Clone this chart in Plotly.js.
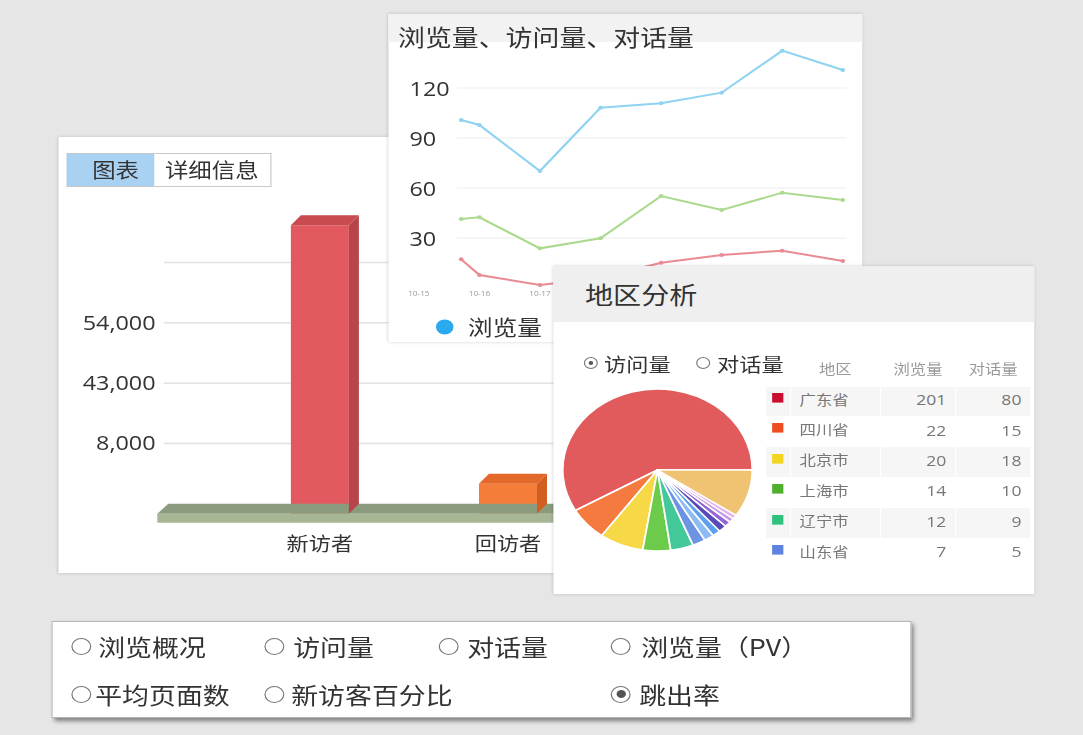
<!DOCTYPE html>
<html><head><meta charset="utf-8">
<script src="https://cdn.plot.ly/plotly-3.0.1.min.js"></script>
<style>
html,body{margin:0;padding:0;}
body{width:1083px;height:735px;background:#e6e6e6;position:relative;overflow:hidden;font-family:"Noto Sans CJK SC","Noto Sans",sans-serif;color:#333;}
#stage{position:absolute;left:0;top:0;width:926px;height:735px;transform:scaleX(1.17);transform-origin:0 0;}
.txt{white-space:nowrap;}
</style>
</head>
<body>
<div id="stage"></div>
<script>
// ---------- DATA ----------
const barCategories = ['新访者', '回访者'];
const barValues = [4.78, 0.5];
const barTickText = ['8,000', '43,000', '54,000', ''];

const lineDates = ['10-15', '10-16', '10-17', '10-18', '10-19', '10-20', '10-21', '10-22'];
const visibleDateCount = 3;   // the other date labels are covered by the 地区分析 card
const lineX = [0.7, 1, 2, 3, 4, 5, 6, 7];
const pvValues = [100.8, 97.8, 70.2, 108.2, 110.8, 117.2, 142.4, 130.8];
const visitValues = [41.4, 42.4, 23.8, 29.8, 55.2, 46.8, 57.2, 52.8];
const chatValues = [17.2, 7.8, 1.8, 6, 15.2, 19.8, 22.4, 16.2];
const lineTicks = [30, 60, 90, 120];
const lineSeriesNames = ['浏览量', '访问量', '对话量'];

const regions = ['广东省', '四川省', '北京市', '上海市', '辽宁市', '山东省'];
const regionPV = [201, 22, 20, 14, 12, 7];
const regionChat = [80, 15, 18, 10, 9, 5];
const pieLabels = ['广东省', '四川省', '北京市', '上海市', '辽宁市', '山东省', '其他1', '其他2', '其他3', '其他4', '其他5', '其他6', '其他7'];
const pieValues = [210, 24, 27, 17, 14, 8, 6, 5, 5, 4, 3, 3, 34];

const panelRadios = ['访问量', '对话量'];
const bottomRow1 = ['浏览概况', '访问量', '对话量', '浏览量（PV）'];
const bottomRow2 = ['平均页面数', '新访客百分比', '跳出率'];
const tabLabels = ['图表', '详细信息'];
const chartTitles = ['浏览量、访问量、对话量', '地区分析'];

// ---------- STYLE ----------
const SX = 1.17;
const FONT = '"Open Sans", "Noto Sans CJK SC", sans-serif';
const CJK = '"Noto Sans CJK SC", "Noto Sans", sans-serif';
const stage = document.getElementById('stage');
const CFG = {staticPlot: true, displayModeBar: false};

function el(parent, gx, gy, gw, gh, css) {
  const d = document.createElement('div');
  d.style.position = 'absolute';
  d.style.left = (gx / SX) + 'px';
  d.style.top = gy + 'px';
  if (gw != null) d.style.width = (gw / SX) + 'px';
  if (gh != null) d.style.height = gh + 'px';
  if (css) d.style.cssText += css;
  parent.appendChild(d);
  return d;
}
function text(parent, gx, cy, str, fs, css) {
  const lh = Math.round(fs * 1.4);
  const d = el(parent, gx, cy - lh / 2, null, null, 'font-size:' + fs + 'px;line-height:' + lh + 'px;' + (css || ''));
  d.className = 'txt';
  d.textContent = str;
  return d;
}
function radio(parent, cx, cy, tx, label, fs, checked, dia, dot) {
  const c = el(parent, cx - dia * SX / 2, cy - dia / 2, dia * SX, dia,
    'box-sizing:border-box;border:1px solid #777;border-radius:50%;background:#fff;');
  if (checked) {
    el(c, (dia - 2 - dot) * SX / 2, (dia - 2 - dot) / 2, dot * SX, dot, 'border-radius:50%;background:#555;');
  }
  text(parent, tx, cy, label, fs, 'color:#333;');
}

// ---------- BAR PANEL ----------
const barPanel = el(stage, 58, 137, 540, 436, 'background:#fff;box-shadow:0 0 3px rgba(0,0,0,0.18);z-index:1;');
const barDiv = el(barPanel, 0, 0, 540, 436);
const tab1 = el(barPanel, 9, 16, 88, 34, 'background:#a9d1f2;box-sizing:border-box;border:1px solid #c8c8c8;');
text(tab1, 24, 16, tabLabels[0], 20, 'color:#333;');
const tab2 = el(barPanel, 97, 16, 117, 34, 'background:#fff;box-sizing:border-box;border:1px solid #c8c8c8;border-left:none;');
text(tab2, 10, 16, tabLabels[1], 20, 'color:#333;');

(function () {
  const pxX = 188, pxY = 60.3;
  const x0g = 319;
  const plotL = 156, plotR = 598;
  const xr = [(plotL - x0g) / pxX, (plotR - x0g) / pxX];
  const yr = [-0.45, 5.2];
  const yBottomG = 503.5 + 0.45 * pxY;
  const mb = (137 + 436) - yBottomG;
  const mt = 436 - mb - (yr[1] - yr[0]) * pxY;
  const dx = 10 / pxX, dy = 10 / pxY, hw = 29 / pxX;
  const floorH = 9 / pxY;
  const xs = barCategories.map((c, i) => i);
  const front = ['#e25a5f', '#f57d3a'];
  const top = ['#c84b4f', '#e3692b'];
  const side = ['#b6464a', '#d25e21'];
  const traces = [];
  const fl = xr[0] + 0.5 / pxX, frR = xr[1] + 1;
  traces.push({x: [fl, frR, frR, fl + 1.1 * dx, fl], y: [-dy, -dy, 0, 0, -dy], mode: 'lines', fill: 'toself',
    fillcolor: '#8b9b7d', line: {width: 0}, hoverinfo: 'skip'});
  traces.push({x: [fl, frR, frR, fl, fl], y: [-dy - floorH, -dy - floorH, -dy, -dy, -dy - floorH], mode: 'lines', fill: 'toself',
    fillcolor: '#a7b795', line: {width: 0}, hoverinfo: 'skip'});
  traces.push({type: 'bar', x: xs, y: barValues, base: -dy, width: 2 * hw,
    marker: {color: front, line: {width: 0}}, hoverinfo: 'skip'});
  xs.forEach((c, i) => {
    const v = barValues[i];
    traces.push({x: [c + hw, c + hw + dx, c + hw + dx, c + hw, c + hw], y: [-dy, 0, v, v - dy, -dy], mode: 'lines',
      fill: 'toself', fillcolor: side[i], line: {width: 0}, hoverinfo: 'skip'});
    traces.push({x: [c - hw, c + hw, c + hw + dx, c - hw + dx, c - hw], y: [v - dy, v - dy, v, v, v - dy], mode: 'lines',
      fill: 'toself', fillcolor: top[i], line: {width: 0}, hoverinfo: 'skip'});
  });
  const gridStart = (163 - x0g) / pxX;
  const shapes = [1, 2, 3, 4].map(g => ({type: 'line', xref: 'x', yref: 'y', x0: gridStart, x1: frR, y0: g, y1: g,
    line: {color: '#e3e3e3', width: 1.5}, layer: 'below'}));
  Plotly.newPlot(barDiv, traces, {
    width: 540 / SX, height: 436,
    margin: {l: (plotL - 58) / SX, r: 0, t: mt, b: mb, autoexpand: false},
    paper_bgcolor: 'rgba(0,0,0,0)', plot_bgcolor: 'rgba(0,0,0,0)',
    showlegend: false, shapes: shapes,
    xaxis: {range: xr, tickvals: xs, ticktext: barCategories, showgrid: false, zeroline: false, showline: false,
      ticks: '', tickfont: {family: CJK, size: 19, color: '#333'}},
    yaxis: {range: yr, tickvals: [1, 2, 3, 4], ticktext: barTickText, showgrid: false, zeroline: false, showline: false,
      ticks: '', tickfont: {family: FONT, size: 20, color: '#333'}}
  }, CFG);
})();

// ---------- LINE PANEL ----------
const linePanel = el(stage, 388, 14, 474, 328, 'background:#fff;box-shadow:0 0 3px rgba(0,0,0,0.18);z-index:2;');
el(linePanel, 0, 0, 474, 28, 'background:#f2f2f2;');
const lineDiv = el(linePanel, 0, 0, 474, 328);
text(linePanel, 10, 22, chartTitles[0], 23, 'color:#333;');

(function () {
  const pxX = 60.6, x0g = 418;
  const plotL = 404, plotR = 850;
  const xr = [(plotL - x0g) / pxX, (plotR - x0g) / pxX];
  const colors = ['#8ed3f0', '#abd98e', '#ea8a92'];
  const series = [pvValues, visitValues, chatValues];
  const traces = [];
  [2, 1, 0].forEach(i => {
    traces.push({x: lineX, y: series[i], mode: 'lines+markers', line: {color: colors[i], width: 2},
      marker: {color: colors[i], size: 4}, showlegend: false, hoverinfo: 'skip'});
  });
  traces.push({x: [null], y: [null], mode: 'markers', name: lineSeriesNames[0], marker: {color: '#2aa9ee', size: 15},
    showlegend: true, hoverinfo: 'skip'});
  const shapes = lineTicks.map(t => ({type: 'line', xref: 'x', yref: 'y', x0: 0.62, x1: 7.06, y0: t, y1: t,
    line: {color: '#eeeeee', width: 1}, layer: 'below'}));
  // y tick labels, left-aligned inside the plot, placed through the y scale
  const yLabels = lineTicks.map(t => ({xref: 'paper', yref: 'y', x: 0, y: t, xanchor: 'left', yanchor: 'middle',
    xshift: 2, text: String(t), showarrow: false, font: {family: FONT, size: 20, color: '#333'}}));
  const tv = lineDates.slice(0, visibleDateCount).map((d, i) => i);
  Plotly.newPlot(lineDiv, traces, {
    width: 474 / SX, height: 328,
    margin: {l: (plotL - 388) / SX, r: (862 - plotR) / SX, t: 24, b: 54, autoexpand: false},
    paper_bgcolor: 'rgba(0,0,0,0)', plot_bgcolor: 'rgba(0,0,0,0)',
    shapes: shapes, annotations: yLabels,
    showlegend: true,
    legend: {orientation: 'h', x: 0.037, xanchor: 'left', y: -0.157, yanchor: 'middle',
      font: {family: CJK, size: 21, color: '#333'}, bgcolor: 'rgba(0,0,0,0)', itemsizing: 'trace'},
    xaxis: {range: xr, tickvals: tv, ticktext: lineDates.slice(0, visibleDateCount),
      showgrid: false, zeroline: false, showline: false, ticks: '', tickfont: {family: FONT, size: 7, color: '#9a9a9a'}},
    yaxis: {range: [0, 150], tickvals: lineTicks, showticklabels: false,
      showgrid: false, zeroline: false, showline: false, ticks: ''}
  }, CFG);
})();

// ---------- PIE PANEL ----------
const piePanel = el(stage, 553, 266, 481, 328, 'background:#fff;box-shadow:0 0 3px rgba(0,0,0,0.18);z-index:3;');
el(piePanel, 0, 0, 481, 56, 'background:#efefef;');
text(piePanel, 32, 28, chartTitles[1], 24, 'color:#333;');
const pieDiv = el(piePanel, 658 - 553 - 95, 470 - 266 - 81, 162 * SX, 162);
const tableDiv = el(piePanel, 212, 89, 266, 230);
radio(piePanel, 591 - 553, 363 - 266, 604 - 553, panelRadios[0], 19, true, 12, 4);
radio(piePanel, 703 - 553, 363 - 266, 717 - 553, panelRadios[1], 19, false, 12, 4);

(function () {
  const pieColors = ['#e15b5c', '#f47a3f', '#f7d948', '#6ccb4a', '#43c999', '#6d93e3', '#8cbcf3', '#5f9ff0',
    '#5a4cb8', '#9466d6', '#c59be6', '#e6b0ea', '#f0c373'];
  Plotly.newPlot(pieDiv, [{type: 'pie', labels: pieLabels, values: pieValues, sort: false, direction: 'counterclockwise',
    rotation: -120, textinfo: 'none', hoverinfo: 'skip', marker: {colors: pieColors, line: {color: '#ffffff', width: 1.5}}}], {
    width: 162, height: 162, margin: {l: 0, r: 0, t: 0, b: 0}, showlegend: false,
    paper_bgcolor: 'rgba(0,0,0,0)'
  }, CFG);

  const regionColors = ['#c8102e', '#f04c22', '#f2d51f', '#4fb02e', '#2fc27f', '#5f82e0'];
  const squares = regions.map(() => '■');
  const rowFill = regions.map((r, i) => i % 2 === 0 ? '#f6f6f6' : '#ffffff');
  Plotly.newPlot(tableDiv, [{type: 'table', columnwidth: [25, 90, 75, 75],
    header: {values: ['', '地区', '浏览量', '对话量'], align: 'center', height: 31,
      fill: {color: 'rgba(0,0,0,0)'}, line: {color: 'rgba(0,0,0,0)', width: 0},
      font: {family: CJK, size: 14, color: '#999'}},
    cells: {values: [squares, regions, regionPV, regionChat], align: ['center', 'left', 'right', 'right'], height: 30.4,
      fill: {color: [rowFill, rowFill, rowFill, rowFill]}, line: {color: '#ffffff', width: 1},
      font: {family: FONT, size: [12, 14, 15, 15], color: [regionColors, '#777', '#777', '#777']}}
  }], {
    width: 266 / SX, height: 230, margin: {l: 0, r: 0, t: 0, b: 0}, paper_bgcolor: 'rgba(0,0,0,0)'
  }, CFG);
})();

// ---------- BOTTOM PANEL ----------
const bottom = el(stage, 52, 621, 860, 97, 'background:#fff;box-sizing:border-box;border:1px solid #b5b5b5;box-shadow:2px 3px 4px rgba(0,0,0,0.45);z-index:1;');
const r1cx = [80, 273, 447, 620], r1tx = [97, 292, 466, 640];
bottomRow1.forEach((l, i) => radio(bottom, r1cx[i] - 52, 645 - 621, r1tx[i] - 52, l, 23, false, 17, 8));
const r2cx = [80, 273, 620], r2tx = [94, 290, 638];
bottomRow2.forEach((l, i) => radio(bottom, r2cx[i] - 52, 693 - 621, r2tx[i] - 52, l, 23, i === 2, 17, 8));
</script>
</body></html>
